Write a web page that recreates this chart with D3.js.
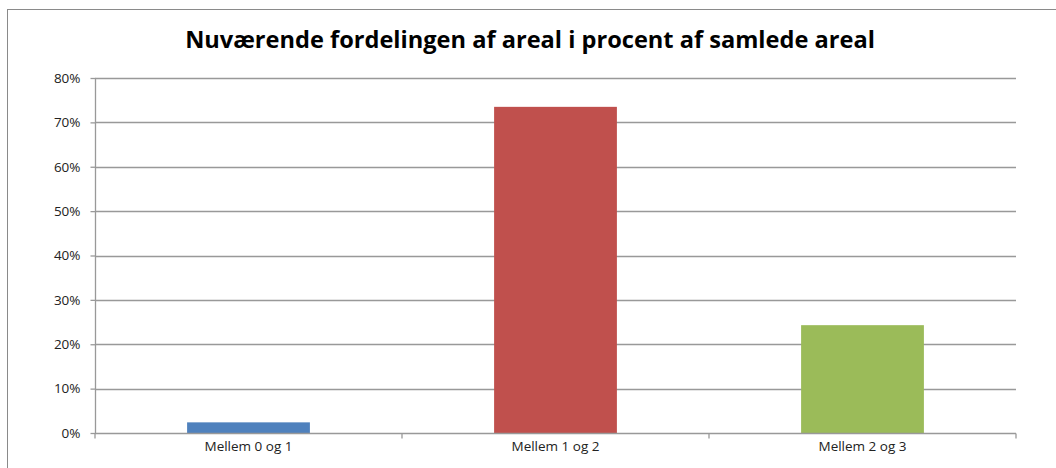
<!DOCTYPE html>
<html>
<head>
<meta charset="utf-8">
<script src="https://cdn.jsdelivr.net/npm/d3@7"></script>
<style>
  body { margin: 0; background: #fff; }
  text { font-family: "Open Sans", "Liberation Sans", sans-serif; }
</style>
</head>
<body>
<svg class="chart"></svg>
<script>
var categories = ['Mellem 0 og 1', 'Mellem 1 og 2', 'Mellem 2 og 3'];
var values = [0.024, 0.735, 0.243];
var colors = ['#4f81bd', '#c0504d', '#9bbb59'];
var yTicks = [0, 0.1, 0.2, 0.3, 0.4, 0.5, 0.6, 0.7, 0.8];
var title = 'Nuværende fordelingen af areal i procent af samlede areal';

var W = 1056, H = 468;
var svg = d3.select('.chart').attr('width', W).attr('height', H);

// outer chart frame
svg.append('rect')
   .attr('x', 7.5).attr('y', 9.5)
   .attr('width', W).attr('height', H)
   .attr('fill', '#fff')
   .attr('stroke', '#8a8a8a');

var plotL = 95, plotR = 1016, plotT = 78, plotB = 433;

var x = d3.scaleBand()
          .domain(categories)
          .range([plotL, plotR])
          .paddingInner(0.6)
          .paddingOuter(0.3);

var y = d3.scaleLinear()
          .domain([0, 0.8])
          .range([plotB, plotT]);

// gridlines
svg.append('g')
   .selectAll('line')
   .data(yTicks.slice(1))
   .join('line')
   .attr('x1', plotL).attr('x2', plotR)
   .attr('y1', d => Math.round(y(d)) + 0.5)
   .attr('y2', d => Math.round(y(d)) + 0.5)
   .attr('stroke', '#999')
   .attr('stroke-width', 1.3);

// bars
svg.append('g')
   .selectAll('rect')
   .data(values)
   .join('rect')
   .attr('x', (d, i) => x(categories[i]))
   .attr('y', d => y(d))
   .attr('width', x.bandwidth())
   .attr('height', d => y(0) - y(d))
   .attr('fill', (d, i) => colors[i]);

// y axis
var yAxis = d3.axisLeft(y)
              .tickValues(yTicks)
              .tickFormat(d3.format('.0%'))
              .tickSize(5)
              .tickPadding(10);

var gy = svg.append('g')
            .attr('transform', 'translate(' + (plotL + 0.5) + ',0)')
            .call(yAxis);
gy.select('.domain').attr('stroke', '#999').attr('stroke-width', 1.3).attr('d', 'M0,' + plotT + 'V' + plotB);
gy.selectAll('.tick line').attr('stroke', '#999').attr('stroke-width', 1.3);
gy.selectAll('.tick text').attr('fill', '#222').style('font-size', '13.5px')
  .style('font-family', '"Open Sans", sans-serif');

// x axis: ticks at category boundaries
var gx = svg.append('g')
            .attr('transform', 'translate(0,' + (plotB + 0.5) + ')');
gx.append('line')
  .attr('x1', plotL).attr('x2', plotR)
  .attr('stroke', '#999').attr('stroke-width', 1.3);
gx.selectAll('.bt')
  .data(d3.range(categories.length + 1))
  .join('line')
  .attr('class', 'bt')
  .attr('x1', i => plotL + i * (plotR - plotL) / categories.length)
  .attr('x2', i => plotL + i * (plotR - plotL) / categories.length)
  .attr('y1', 0).attr('y2', 5)
  .attr('stroke', '#999').attr('stroke-width', 1.3);
gx.selectAll('.lbl')
  .data(categories)
  .join('text')
  .attr('class', 'lbl')
  .attr('x', d => x(d) + x.bandwidth() / 2)
  .attr('y', 17)
  .attr('text-anchor', 'middle')
  .attr('fill', '#222')
  .style('font-size', '13.5px')
  .text(d => d);

// title
var t = svg.append('text')
           .attr('x', 530)
           .attr('y', 48)
           .attr('text-anchor', 'middle')
           .attr('fill', '#000')
           .style('font-weight', 'bold')
           .style('font-size', '23px')
           .text(title);
var len = t.node().getComputedTextLength();
t.style('font-size', (23 * 690 / len) + 'px');
</script>
</body>
</html>
